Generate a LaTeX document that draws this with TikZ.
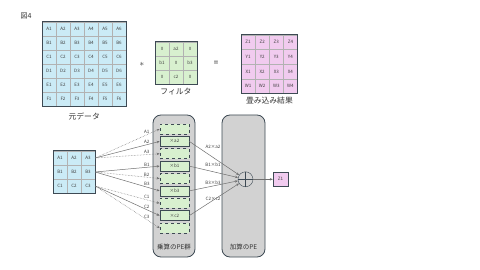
\documentclass[tikz,border=0pt]{standalone}
\usepackage{fontspec}
\setmainfont{Noto Sans CJK JP}
\usetikzlibrary{arrows.meta, positioning, calc}
\definecolor{cellblue}{HTML}{CBEBF6}
\definecolor{cellgreen}{HTML}{D8F0CF}
\definecolor{cellpink}{HTML}{F1CBEF}
\definecolor{pegray}{HTML}{D2D2D2}
\definecolor{peedge}{HTML}{3E4A54}
\definecolor{linegray}{HTML}{707070}

\begin{document}
\begin{tikzpicture}[
    x=1pt, y=-1pt,
    cell/.style={draw=gray!60, minimum width=14pt, minimum height=14pt, inner sep=0pt, font=\fontsize{4.5}{5}\selectfont, text=black!75},
    caption/.style={font=\fontsize{7.8}{8.5}\selectfont, text=black!80, inner sep=0pt},
    pebox/.style={draw=peedge, fill=pegray, rounded corners=8pt, minimum width=42pt, minimum height=142pt, thick},
    mulbox/.style={draw=peedge, fill=cellgreen, minimum width=29pt, minimum height=10pt, inner sep=0pt, semithick, font=\fontsize{4.5}{5}\selectfont, text=black!75},
    zerobox/.style={mulbox, dashed, thick},
    feedline/.style={-{Stealth[length=3pt, width=2.5pt]}, linegray, line width=0.5pt},
    zeroline/.style={feedline, densely dotted},
    lbl/.style={font=\fontsize{4.5}{5}\selectfont, text=black!75, inner sep=0.8pt},
]
    \fill[white] (0,0) rectangle (480,270);
    \useasboundingbox (0,0) rectangle (480,270);

    \node[caption, font=\fontsize{7}{8}\selectfont] (fig) at (26,16) {図4};

    % Input data 6x6
    \foreach \r [count=\i from 0] in {A,B,C,D,E,F} {
        \foreach \c in {1,...,6} {
            \node[cell, fill=cellblue] (big\r\c) at ({35+14*\c}, {29+14*\i}) {\r\c};
        }
    }
    \draw[peedge, semithick] (bigA1.north west) rectangle (bigF6.south east);
    \node[caption, below=6pt of bigF3.south east] (bigcap) {元データ};

    \node[font=\fontsize{9}{10}\selectfont, text=black!80] (conv) at (142,64) {$\ast$};

    % Filter 3x3
    \foreach \v [count=\k from 0] in {0,a2,0,b1,0,b3,0,c2,0} {
        \pgfmathtruncatemacro{\row}{floor(\k/3)}
        \pgfmathtruncatemacro{\col}{\k-3*\row}
        \node[cell, fill=cellgreen] (filt\k) at ({162+14*\col}, {49+14*\row}) {\v};
    }
    \draw[peedge, semithick] (filt0.north west) rectangle (filt8.south east);
    \node[caption, below=4pt of filt7] (filtcap) {フィルタ};

    \node[font=\fontsize{8}{9}\selectfont] (eq) at (216,63.5) {=};

    % Result 4x4
    \foreach \r [count=\i from 0] in {Z,Y,X,W} {
        \foreach \c in {1,...,4} {
            \node[cell, fill=cellpink, minimum height=14.6pt] (res\r\c) at ({234+14.1*\c}, {42.3+14.6*\i}) {\r\c};
        }
    }
    \draw[peedge, semithick] (resZ1.north west) rectangle (resW4.south east);
    \node[caption, below=3pt of resW2.south east] (rescap) {畳み込み結果};

    % Input window 3x3
    \foreach \r [count=\i from 0] in {A,B,C} {
        \foreach \c in {1,2,3} {
            \node[cell, fill=cellblue] (small\r\c) at ({46+14*\c}, {158+14*\i}) {\r\c};
        }
    }
    \draw[peedge, semithick] (smallA1.north west) rectangle (smallC3.south east);

    % PE groups
    \node[pebox] (mulpe) at (174,186) {};
    \node[pebox, minimum width=43pt] (addpe) at (243.5,186) {};
    \node[caption, font=\fontsize{6.5}{7}\selectfont] (mulcap) at (174,247) {乗算のPE群};
    \node[caption, font=\fontsize{6.5}{7}\selectfont] (addcap) at (243.5,247) {加算のPE};

    % Multipliers
    \foreach \n/\t/\s [count=\k from 0] in {A1//zerobox, A2/×a2/mulbox, A3//zerobox, B1/×b1/mulbox, B2//zerobox, B3/×b3/mulbox, C1//zerobox, C2/×c2/mulbox, C3//zerobox} {
        \node[\s] (mul\n) at (174.5, {129+12.375*\k}) {\t};
    }

    % Inputs to multipliers
    \foreach \n/\r/\s in {A1/A/zeroline, A2/A/feedline, A3/A/zeroline, B1/B/feedline, B2/B/zeroline, B3/B/feedline, C1/C/zeroline, C2/C/feedline, C3/C/zeroline} {
        \draw[\s] (small\r3.east) -- (mul\n.west) node[pos=0.8, anchor=south, lbl] {\n};
    }

    % Adder
    \node[circle, draw=peedge, fill=pegray, minimum size=15pt, inner sep=0pt, thin] (adder) at (245.5,179.3) {};
    \draw[peedge, thin] (adder.north) -- (adder.south) (adder.west) -- (adder.east);

    \foreach \n/\t/\ly in {A2/A2×a2/147, B1/B1×b1/164.5, B3/B3×b3/183, C2/C2×c2/199} {
        \draw[feedline] (mul\n.east) -- (adder);
        \node[lbl] (prod\n) at (213,\ly) {\t};
    }

    % Output
    \node[cell, fill=cellpink, draw=peedge, minimum width=15pt] (zout) at (280.5,179.3) {Z1};
    \draw[feedline] (adder) -- (zout);

\end{tikzpicture}
\end{document}
